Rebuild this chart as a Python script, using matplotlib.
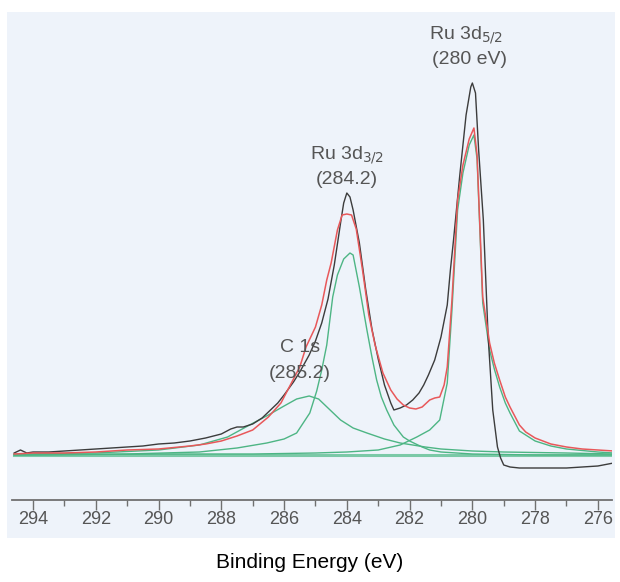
import matplotlib.pyplot as plt
from matplotlib.patches import Rectangle
from matplotlib.ticker import MultipleLocator

# binding energy (eV) and intensity (arb. units, height above baseline)
raw_e = [294.6, 294.4, 294.2, 294.0, 293.5, 293.0, 292.5, 292.0, 291.5, 291.0,
         290.5, 290.0, 289.5, 289.0, 288.5, 288.0, 287.7, 287.5, 287.3, 287.0,
         286.7, 286.5, 286.2, 286.0, 285.7, 285.5, 285.2, 285.0, 284.8, 284.6,
         284.4, 284.2, 284.1, 284.0, 283.9, 283.8, 283.6, 283.4, 283.2, 283.0,
         282.8, 282.6, 282.5, 282.3, 282.1, 281.9, 281.7, 281.55, 281.4, 281.2,
         281.0, 280.8, 280.7, 280.6, 280.4, 280.2, 280.05, 280.0, 279.9, 279.8,
         279.65, 279.5, 279.35, 279.2, 279.1, 279.0, 278.8, 278.5, 278.0, 277.5,
         277.0, 276.5, 276.0, 275.5]
raw_i = [2, 5, 2, 3, 3, 4, 5, 6, 7, 8,
         9, 11, 12, 14, 17, 21, 26, 28, 28, 31,
         37, 43, 52, 60, 73, 83, 100, 114, 132, 156,
         190, 232, 252, 262, 258, 245, 212, 166, 126, 96,
         70, 52, 45, 47, 50, 55, 62, 70, 80, 95,
         118, 150, 185, 215, 280, 340, 368, 372, 362, 305,
         235, 120, 45, 8, -3, -10, -12, -13, -13, -13,
         -13, -12, -11, -8]

fit_e = [294.6, 294.0, 293.0, 292.0, 291.0, 290.0, 289.0, 288.5, 288.0, 287.5,
         287.0, 286.5, 286.1, 285.8, 285.5, 285.3, 285.0, 284.8, 284.64, 284.5,
         284.3, 284.15, 284.0, 283.85, 283.7, 283.5, 283.3, 283.1, 282.85, 282.6,
         282.4, 282.2, 282.0, 281.8, 281.6, 281.36, 281.2, 281.04, 280.9, 280.8,
         280.65, 280.47, 280.3, 280.1, 279.95, 279.85, 279.67, 279.45, 279.3, 279.13,
         278.95, 278.8, 278.5, 278.3, 278.0, 277.5, 277.0, 276.5, 276.0, 275.5]
fit_i = [1, 2, 2, 3, 5, 6, 9, 11, 14, 19,
         25, 38, 52, 70, 88, 108, 128, 150, 175, 192,
         225, 240, 241, 240, 226, 185, 140, 110, 82, 65,
         56, 50, 47, 46, 48, 55, 57, 58, 70, 88,
         155, 255, 290, 316, 327, 300, 158, 112, 92, 75,
         58, 48, 30, 23, 17, 11, 8, 6, 5, 4]

ru52_e = [294.6, 290.0, 287.0, 285.0, 284.0, 283.0, 282.3, 281.77, 281.36, 281.04,
          280.8, 280.65, 280.47, 280.3, 280.1, 279.95, 279.85, 279.67, 279.45, 279.3,
          279.13, 278.95, 278.8, 278.5, 278.0, 277.5, 277.0, 276.0, 275.5]
ru52_i = [0, 1, 1, 2, 3, 5, 10, 18, 25, 35,
          72, 145, 245, 282, 310, 320, 296, 152, 105, 86,
          68, 52, 42, 24, 14, 9, 6, 3, 2]

ru32_e = [294.6, 291.0, 288.7, 287.5, 286.55, 286.0, 285.6, 285.18, 284.96, 284.8,
          284.64, 284.45, 284.3, 284.1, 283.9, 283.8, 283.6, 283.36, 283.2, 283.05,
          282.9, 282.73, 282.5, 282.2, 282.0, 281.6, 281.36, 281.0, 280.0, 278.0, 275.5]
ru32_i = [0, 1, 3, 7, 12, 16, 22, 42, 64, 85,
          110, 158, 180, 196, 202, 200, 168, 125, 98, 75,
          58, 45, 30, 18, 14, 8, 5, 3, 1, 0, 0]

c1s_e = [294.6, 292.0, 290.0, 288.7, 287.8, 287.1, 286.5, 286.0, 285.6, 285.2,
         284.9, 284.6, 284.2, 283.8, 283.36, 282.8, 282.3, 281.5, 281.0, 280.0,
         279.0, 277.0, 275.5]
c1s_i = [1, 2, 5, 10, 18, 30, 40, 49, 56, 59,
         56, 47, 35, 27, 22, 16, 12, 8, 6, 4,
         3, 2, 1]

base_e = [294.6, 290.0, 285.0, 280.0, 275.5]
base_i = [0, 0, 0, 0, 0]

ticks = [294, 292, 290, 288, 286, 284, 282, 280, 278, 276]

fig = plt.figure(figsize=(6.2, 5.82), dpi=100)
fig.patch.set_facecolor('white')

# scanned-page background, drawn in its own axes behind the plot
bg = fig.add_axes([0, 0, 1, 1], zorder=-5)
bg.set_axis_off()
bg.set_xlim(0, 620)
bg.set_ylim(582, 0)
bg.add_patch(Rectangle((7, 12), 608, 526, facecolor='#eef3fa', edgecolor='none'))

ax = fig.add_axes([12 / 620, 1 - 500 / 582, 600 / 620, 480 / 582], zorder=1)
ax.patch.set_alpha(0)

ax.plot(base_e, base_i, color='#5fbf92', lw=2.2, alpha=0.8)
ax.plot(c1s_e, c1s_i, color='#4db584', lw=1.0)
ax.plot(ru32_e, ru32_i, color='#4db584', lw=1.0)
ax.plot(ru52_e, ru52_i, color='#4db584', lw=1.0)
ax.plot(raw_e, raw_i, color='#3c3c3c', lw=1.0)
ax.plot(fit_e, fit_i, color='#e8585a', lw=1.1)

ax.set_xlim(294.67, 275.55)
ax.set_ylim(-45, 435)

for s in ['left', 'right', 'top']:
    ax.spines[s].set_visible(False)
ax.spines['bottom'].set_color('#707070')
ax.spines['bottom'].set_linewidth(1.3)
ax.set_yticks([])
ax.set_xticks(ticks)
ax.xaxis.set_minor_locator(MultipleLocator(1))
ax.tick_params(axis='x', which='major', length=7, width=1.0, color='#707070',
               labelsize=13, labelcolor='#555555', pad=1)
ax.tick_params(axis='x', which='minor', length=4, width=1.0, color='#707070')
for lab in ax.get_xticklabels():
    lab.set_fontfamily('Liberation Sans')

txt = dict(ha='center', va='center', color='#555555', fontsize=14,
           family='Liberation Sans')
ax.text(280.2, 420, r'Ru 3d$_{5/2}$', **txt)
ax.text(280.1, 395, '(280 eV)', **txt)
ax.text(284.0, 300, r'Ru 3d$_{3/2}$', **txt)
ax.text(284.0, 275, '(284.2)', **txt)
ax.text(285.5, 107, 'C 1s', **txt)
ax.text(285.5, 81, '(285.2)', **txt)

fig.text(0.5, 1 - 563 / 582, 'Binding Energy (eV)', ha='center', va='center',
         fontsize=15, family='Liberation Sans', color='black')

fig.savefig('out.png', dpi=100)
